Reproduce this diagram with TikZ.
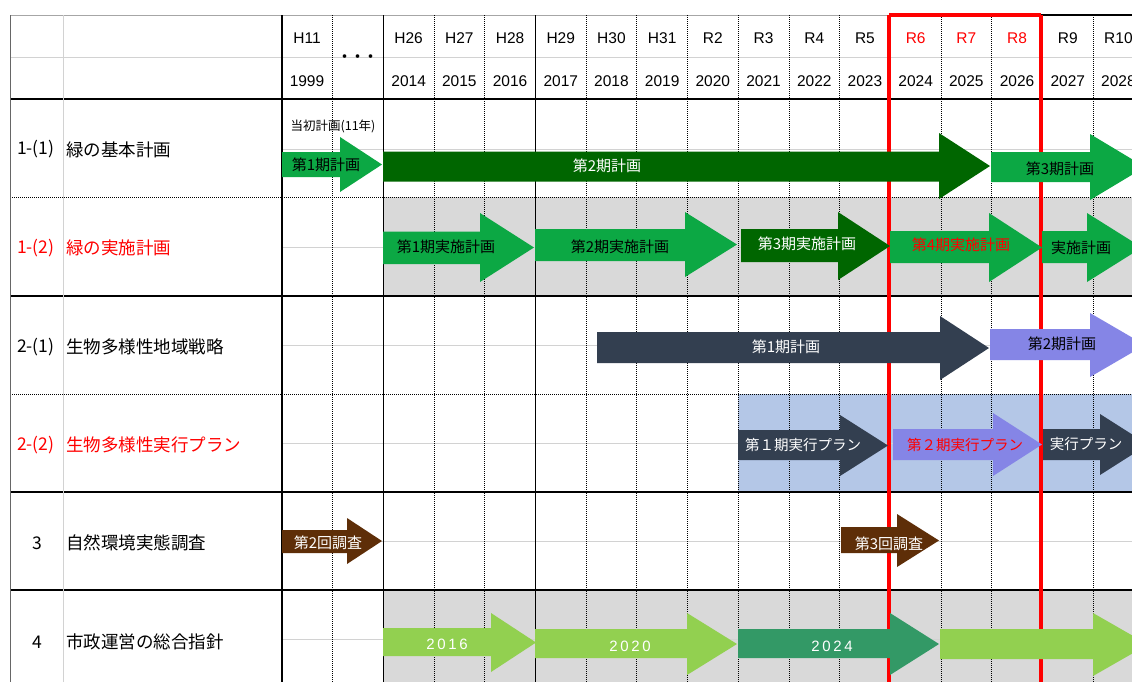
\documentclass[tikz,border=0pt]{standalone}
\usepackage{fontspec}
\setmainfont{Liberation Sans}
\newfontfamily\jp{Noto Sans CJK JP}
\newfontfamily\widefont[LetterSpace=18]{Liberation Sans}
\definecolor{arrgreen}{RGB}{12,168,68}
\definecolor{arrdark}{RGB}{0,102,0}
\definecolor{arrslate}{RGB}{51,63,80}
\definecolor{arrperi}{RGB}{133,133,230}
\definecolor{arrbrown}{RGB}{94,46,8}
\definecolor{arrlight}{RGB}{146,208,80}
\definecolor{arrteal}{RGB}{51,153,102}
\definecolor{bggray}{RGB}{217,217,217}
\definecolor{bgblue}{RGB}{180,199,231}
\definecolor{midgray}{RGB}{210,210,210}
\definecolor{redline}{RGB}{255,0,0}
\newcommand\fatarrow[8]{%
  \fill[#1] (#2,#5) -- (#3,#5) -- (#3,#7) -- (#4,{(#7+#8)/2}) -- (#3,#8) -- (#3,#6) -- (#2,#6) -- cycle;}
\tikzset{
  hdr/.style={inner sep=0pt, font=\fontsize{15.5}{16}\selectfont},
  lbl/.style={inner sep=0pt, anchor=west, font=\jp\fontsize{17.5}{18}\selectfont},
  atext/.style={inner sep=0pt, font=\jp\fontsize{15}{16}\selectfont},
  ptext/.style={inner sep=0pt, font=\jp\fontsize{14.5}{16}\selectfont},
  ytext/.style={inner sep=0pt, text=white, font=\widefont\fontsize{15}{16}\selectfont},
  solidline/.style={line width=1.3pt, black},
  dotline/.style={line width=0.7pt, black, dash pattern=on 1pt off 1pt},
  thinmid/.style={line width=0.8pt, midgray},
  redv/.style={line width=3.2pt, redline},
}
\begin{document}
\begin{tikzpicture}[x=1pt,y=-1pt]
\useasboundingbox (0,0) rectangle (1132,681);
\clip (0,0) rectangle (1132,681);
\fill[white] (0,0) rectangle (1132,681);
% backgrounds
\fill[bggray] (383,197) rectangle (1140,296);
\fill[bgblue] (738,394) rectangle (1140,492);
\fill[bggray] (383,590) rectangle (1140,690);
% mid lines
\draw[thinmid] (10,57) -- (1140,57);
\foreach \yy in {149,247,345,443,541.5,639} \draw[thinmid] (282,\yy) -- (1140,\yy);
% horizontal lines
\draw[line width=1pt, gray!70] (10,15) -- (889,15);
\draw[line width=1.8pt, black] (1041,15) -- (1140,15);
\draw[line width=1.8pt, black] (10,99) -- (1140,99);
\draw[dotline] (10,197) -- (1140,197);
\draw[solidline] (10,296) -- (1140,296);
\draw[dotline] (10,394) -- (1140,394);
\draw[solidline] (10,492) -- (1140,492);
\draw[solidline] (10,590) -- (1140,590);
% vertical lines
\draw[line width=1pt, gray!80!black] (10,15) -- (10,690);
\draw[line width=0.8pt, midgray] (63,15) -- (63,690);
\draw[solidline] (282,15) -- (282,690);
\draw[dotline] (332,15) -- (332,690);
\draw[solidline] (383.3,15) -- (383.3,690);
\foreach \k in {1,2,4,5,6,7,8,9,11,12,14}
  \draw[dotline] ({383.3+50.7*\k},15) -- ({383.3+50.7*\k},690);
\draw[solidline] ({383.3+50.7*3},15) -- ({383.3+50.7*3},690);
% red frame
\draw[redv] (889,15) -- (889,690);
\draw[redv] (1041,15) -- (1041,690);
\draw[redv] (889,15) -- (1041,15);
% header labels
\node[hdr] (h11) at (307,38.5) {H11};
\node[hdr] (y1999) at (307,81) {1999};
\node[inner sep=0pt, font=\jp\bfseries\fontsize{13}{13}\selectfont] (dots) at (357.5,58) {・・・};
\foreach \i/\h/\yr/\c in {0/H26/2014/black,1/H27/2015/black,2/H28/2016/black,3/H29/2017/black,4/H30/2018/black,5/H31/2019/black,6/R2/2020/black,7/R3/2021/black,8/R4/2022/black,9/R5/2023/black,10/R6/2024/redline,11/R7/2025/redline,12/R8/2026/redline,13/R9/2027/black,14/R10/2028/black}{
  \node[hdr, text=\c] (h\i) at ({383.3+50.7*\i+25.35},38.5) {\h};
  \node[hdr] (y\i) at ({383.3+50.7*\i+25.35},81) {\yr};
}
% left labels
\node[lbl] (n1) at (17,149.5) {1-(1)};
\node[lbl] (l1) at (66,149.5) {緑の基本計画};
\node[lbl, text=redline] (n2) at (17,248) {1-(2)};
\node[lbl, text=redline] (l2) at (66,248) {緑の実施計画};
\node[lbl] (n3) at (17,347) {2-(1)};
\node[lbl] (l3) at (66,347) {生物多様性地域戦略};
\node[lbl, text=redline] (n4) at (17,445) {2-(2)};
\node[lbl, text=redline] (l4) at (66,445) {生物多様性実行プラン};
\node[lbl, anchor=center] (n5) at (37,543) {3};
\node[lbl] (l5) at (66,543) {自然環境実態調査};
\node[lbl, anchor=center] (n6) at (37,642) {4};
\node[lbl] (l6) at (66,642) {市政運営の総合指針};
% row 1
\node[inner sep=0pt, font=\jp\fontsize{12.5}{13}\selectfont] (init) at (333,126) {当初計画(11年)};
\fatarrow{arrgreen}{282}{340}{382}{152}{177}{137}{192}
\fatarrow{arrdark}{383}{939}{990}{151.5}{181.5}{133}{199}
\fatarrow{arrgreen}{991}{1090}{1145}{152}{182}{134}{200}
\node[atext] (a11) at (326,164.5) {第1期計画};
\node[atext, text=white] (a12) at (607,166) {第2期計画};
\node[atext] (a13) at (1060,169) {第3期計画};
% row 2
\fatarrow{arrgreen}{383}{480}{534}{231.5}{264}{213}{282}
\fatarrow{arrgreen}{535}{685}{737}{229}{261}{212}{277}
\fatarrow{arrdark}{741}{838}{890}{229}{262}{212}{280}
\fatarrow{arrgreen}{890}{989}{1042}{231}{263}{213}{282}
\fatarrow{arrgreen}{1042}{1087}{1142}{231}{263}{213}{282}
\node[atext] (a21) at (446,247) {第1期実施計画};
\node[atext] (a22) at (620,247) {第2期実施計画};
\node[atext, text=white] (a23) at (807,243.5) {第3期実施計画};
\node[atext, text=redline] (a24) at (961,245) {第4期実施計画};
\node[atext] (a25) at (1081,248) {実施計画};
% row 3
\fatarrow{arrslate}{597}{940}{989}{332}{363}{316}{380}
\fatarrow{arrperi}{990}{1090}{1145}{329}{360}{313}{377}
\node[atext, text=white] (a31) at (786,347) {第1期計画};
\node[atext] (a32) at (1062,344) {第2期計画};
% row 4
\fatarrow{arrslate}{738}{840}{888}{430}{460}{415}{476}
\fatarrow{arrperi}{893}{993}{1042}{429}{460}{413}{476}
\fatarrow{arrslate}{1043}{1100}{1148}{429}{460}{414}{475}
\node[ptext, text=white] (a41) at (803,445) {第１期実行プラン};
\node[ptext, text=redline] (a42) at (965,445) {第２期実行プラン};
\node[ptext, text=white] (a43) at (1086,444) {実行プラン};
% row 5
\fatarrow{arrbrown}{282}{347}{382}{530}{553}{518}{564}
\fatarrow{arrbrown}{841}{897}{939}{527}{553}{514}{567}
\node[atext, text=white] (a51) at (328,543) {第2回調査};
\node[atext, text=white] (a52) at (889,544) {第3回調査};
% row 6
\fatarrow{arrlight}{383}{491}{536}{628}{656}{613}{672}
\fatarrow{arrlight}{535}{687}{737}{629}{658}{613}{675}
\fatarrow{arrteal}{738}{890}{939}{629}{658}{613}{675}
\fatarrow{arrlight}{940}{1093}{1148}{629}{659}{613}{676}
\node[ytext] (a61) at (447,644) {2016};
\node[ytext] (a62) at (630,646) {2020};
\node[ytext] (a63) at (832,646) {2024};
\end{tikzpicture}
\end{document}
